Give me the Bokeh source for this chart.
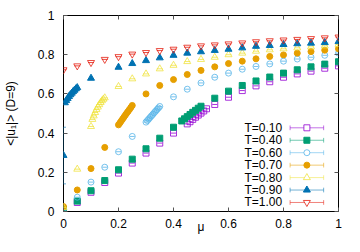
from bokeh.plotting import figure
from bokeh.models import Range1d, LinearAxis, FixedTicker, Whisker, TeeHead, ColumnDataSource
from bokeh.embed import file_html
from bokeh.resources import INLINE
from bokeh.core.properties import value

# ---------------- data ----------------
labels = ["T=0.10", "T=0.40", "T=0.60", "T=0.70", "T=0.80", "T=0.90", "T=1.00"]
colors = ["#9400d3", "#009e73", "#56b4e9", "#e69f00", "#f0e442", "#0072b2", "#e51e10"]
markers = ["square", "square", "circle", "circle", "triangle", "triangle", "inverted_triangle"]
filled = [False, True, False, True, False, True, False]

mu_t010 = [0.0, 0.05, 0.1, 0.15, 0.2, 0.25, 0.3, 0.35, 0.4,
           0.45, 0.46, 0.47, 0.48, 0.49, 0.50, 0.51, 0.52,
           0.55, 0.6, 0.65, 0.7, 0.75, 0.8, 0.85, 0.9, 0.95, 1.0]
u_t010 = [0.005, 0.046, 0.098, 0.148, 0.196, 0.247, 0.298, 0.349, 0.400,
          0.447, 0.458, 0.470, 0.481, 0.492, 0.502, 0.513, 0.524,
          0.546, 0.583, 0.617, 0.641, 0.662, 0.685, 0.702, 0.716, 0.731, 0.743]

mu_t040 = [0.0, 0.05, 0.1, 0.15, 0.2, 0.25, 0.3, 0.35, 0.4,
           0.43, 0.44, 0.45, 0.46, 0.47, 0.48, 0.49, 0.50,
           0.55, 0.6, 0.65, 0.7, 0.75, 0.8, 0.85, 0.9, 0.95, 1.0]
u_t040 = [0.010, 0.053, 0.106, 0.158, 0.213, 0.267, 0.320, 0.374, 0.430,
          0.462, 0.473, 0.484, 0.495, 0.506, 0.516, 0.527, 0.537,
          0.578, 0.614, 0.643, 0.666, 0.686, 0.706, 0.723, 0.738, 0.752, 0.764]

mu_t060 = [0.0, 0.05, 0.1, 0.15, 0.2, 0.25,
           0.30, 0.305, 0.31, 0.315, 0.32, 0.325, 0.33, 0.335, 0.34, 0.345, 0.35,
           0.4, 0.45, 0.5, 0.55, 0.6, 0.65, 0.7, 0.75, 0.8, 0.85, 0.9, 0.95, 1.0]
u_t060 = [0.015, 0.073, 0.150, 0.226, 0.305, 0.383,
          0.456, 0.464, 0.472, 0.480, 0.488, 0.496, 0.504, 0.512, 0.520, 0.528, 0.536,
          0.585, 0.624, 0.656, 0.685, 0.706, 0.726, 0.740, 0.753, 0.767, 0.778, 0.787, 0.797, 0.808]

mu_t070 = [0.0, 0.05, 0.1, 0.15,
           0.20, 0.205, 0.21, 0.215, 0.22, 0.225, 0.23, 0.235, 0.24, 0.245, 0.25,
           0.3, 0.35, 0.4, 0.45, 0.5, 0.55, 0.6, 0.65, 0.7, 0.75, 0.8, 0.85, 0.9, 0.95, 1.0]
u_t070 = [0.025, 0.110, 0.219, 0.327,
          0.442, 0.452, 0.462, 0.472, 0.482, 0.492, 0.502, 0.511, 0.521, 0.531, 0.541,
          0.600, 0.643, 0.673, 0.699, 0.720, 0.738, 0.755, 0.767, 0.779, 0.791, 0.799, 0.808, 0.816, 0.823, 0.830]

mu_t080 = [0.0, 0.05, 0.1,
           0.105, 0.11, 0.115, 0.12, 0.125, 0.13, 0.135, 0.14, 0.145, 0.15,
           0.2, 0.25, 0.3, 0.35, 0.4, 0.45, 0.5, 0.55, 0.6, 0.65, 0.7, 0.75, 0.8, 0.85, 0.9, 0.95, 1.0]
u_t080 = [0.020, 0.216, 0.434,
          0.470, 0.488, 0.505, 0.520, 0.533, 0.545, 0.556, 0.565, 0.573, 0.580,
          0.638, 0.677, 0.702, 0.728, 0.746, 0.765, 0.776, 0.787, 0.800, 0.808, 0.818, 0.825, 0.830, 0.835, 0.840, 0.845, 0.852]

mu_t090 = [0.0,
           0.005, 0.01, 0.015, 0.02, 0.025, 0.03, 0.035, 0.04, 0.045, 0.05,
           0.1, 0.2, 0.25, 0.3, 0.35, 0.4, 0.45, 0.5, 0.55, 0.6, 0.65, 0.7, 0.75, 0.8, 0.85, 0.9, 0.95, 1.0]
u_t090 = [0.286,
          0.555, 0.566, 0.577, 0.587, 0.596, 0.604, 0.612, 0.619, 0.626, 0.632,
          0.680, 0.736, 0.755, 0.770, 0.784, 0.797, 0.808, 0.815, 0.822, 0.828, 0.835, 0.843, 0.847, 0.852, 0.856, 0.859, 0.862, 0.867]
# error bar of the T=0.90 point at mu=0
err_mu_t090 = [0.0]
err_lo_t090 = [0.141]
err_hi_t090 = [0.430]

mu_t100 = [0.0, 0.05, 0.1, 0.15, 0.2, 0.25, 0.3, 0.35, 0.4, 0.45, 0.5,
           0.55, 0.6, 0.65, 0.7, 0.75, 0.8, 0.85, 0.9, 0.95, 1.0]
u_t100 = [0.723, 0.743, 0.760, 0.776, 0.790, 0.803, 0.811, 0.821, 0.828, 0.838, 0.845,
          0.850, 0.855, 0.860, 0.866, 0.871, 0.875, 0.878, 0.882, 0.886, 0.890]

series_mu = [mu_t010, mu_t040, mu_t060, mu_t070, mu_t080, mu_t090, mu_t100]
series_u = [u_t010, u_t040, u_t060, u_t070, u_t080, u_t090, u_t100]

x_ticks = [0, 0.2, 0.4, 0.6, 0.8, 1]
x_tick_labels = ["0", "0.2", "0.4", "0.6", "0.8", "1"]
y_ticks = [0, 0.2, 0.4, 0.6, 0.8, 1]
y_tick_labels = ["0", "0.2", "0.4", "0.6", "0.8", "1"]
x_title = "μ"
y_title = "<|u₁|> (D=9)"

# ---------------- figure ----------------
FONT = "Liberation Sans"
BL, BR, BT, BB = 62, 6, 15, 25
W, H = 344, 236
p = figure(width=W, height=H, output_backend="svg", toolbar_location=None,
           x_range=Range1d(0, 1), y_range=Range1d(0, 1),
           x_axis_label=x_title, y_axis_label=y_title,
           min_border_left=BL, min_border_right=BR, min_border_top=BT, min_border_bottom=BB)
p.grid.visible = False
p.background_fill_color = "white"
p.border_fill_color = "white"
p.outline_line_color = "black"
p.outline_line_width = 1

for ax, ticks, labs in ((p.xaxis[0], x_ticks, x_tick_labels), (p.yaxis[0], y_ticks, y_tick_labels)):
    ax.ticker = FixedTicker(ticks=ticks)
    ax.major_label_overrides = {t: l for t, l in zip(ticks, labs)}
    ax.major_tick_in = 4
    ax.major_tick_out = 0
    ax.minor_tick_in = 0
    ax.minor_tick_out = 0
    ax.major_tick_line_color = "#555555"
    ax.axis_line_color = None
    ax.major_label_text_font = FONT
    ax.major_label_text_font_size = "12px"
    ax.major_label_text_color = "black"
    ax.axis_label_text_font = FONT
    ax.axis_label_text_font_size = "12px"
    ax.axis_label_text_font_style = "normal"
    ax.axis_label_text_color = "black"

p.xaxis[0].major_label_standoff = 7
p.xaxis[0].axis_label_standoff = -11
p.yaxis[0].major_label_standoff = 9
p.yaxis[0].axis_label_standoff = 17

# mirrored ticks on top and right (no labels)
for loc, ticks in (("above", x_ticks), ("right", y_ticks)):
    ax = LinearAxis(ticker=FixedTicker(ticks=ticks), major_tick_in=4, major_tick_out=0,
                    minor_tick_in=0, minor_tick_out=0, major_tick_line_color="#555555",
                    axis_line_color=None, major_label_standoff=0,
                    major_label_overrides={t: "" for t in ticks})
    p.add_layout(ax, loc)

# error bar for T=0.90 at mu = 0
err_src = ColumnDataSource(dict(x=err_mu_t090, lo=err_lo_t090, hi=err_hi_t090))
p.add_layout(Whisker(base="x", lower="lo", upper="hi", source=err_src, dimension="height",
                     line_color=colors[5], line_alpha=0.6, line_width=1,
                     lower_head=TeeHead(size=5, line_color=colors[5], line_alpha=0.6),
                     upper_head=TeeHead(size=5, line_color=colors[5], line_alpha=0.6)))

SIZES = [6, 6, 6, 6, 7, 7, 7]
for mu, u, col, mk, fl, sz in zip(series_mu, series_u, colors, markers, filled, SIZES):
    if fl:
        p.scatter(mu, u, marker=mk, size=sz, fill_color=col, line_color=col, line_width=1)
    else:
        p.scatter(mu, u, marker=mk, size=sz, fill_color=None, line_color=col, line_alpha=0.8,
                  line_width=1)
        p.scatter(mu, u, marker="dash", size=sz - 1, line_color=col, line_alpha=0.8, line_width=1)

# ---------------- legend (text left, sample right) ----------------
LEG_TEXT_X = 0.795
LEG_L, LEG_C, LEG_R = 0.824, 0.885, 0.946
LEG_Y0, LEG_DY = 0.427, 0.0635
CAP = 0.012
leg_y = [LEG_Y0 - i * LEG_DY for i in range(len(labels))]
p.text(x=[LEG_TEXT_X] * len(labels), y=leg_y, text=labels, text_align="right",
       text_baseline="middle", text_font=value(FONT), text_font_size="12px", text_color="black")
for i, (col, mk, fl, sz) in enumerate(zip(colors, markers, filled, SIZES)):
    y = leg_y[i]
    p.segment(x0=[LEG_L, LEG_L, LEG_R], y0=[y, y - CAP, y - CAP],
              x1=[LEG_R, LEG_L, LEG_R], y1=[y, y + CAP, y + CAP],
              line_color=col, line_alpha=0.55, line_width=1)
    if fl:
        p.scatter([LEG_C], [y], marker=mk, size=sz, fill_color=col, line_color=col)
    else:
        p.scatter([LEG_C], [y], marker=mk, size=sz, fill_color="white", line_color=col,
                  line_alpha=0.8)

open("out.html", "w").write(file_html(p, INLINE))
